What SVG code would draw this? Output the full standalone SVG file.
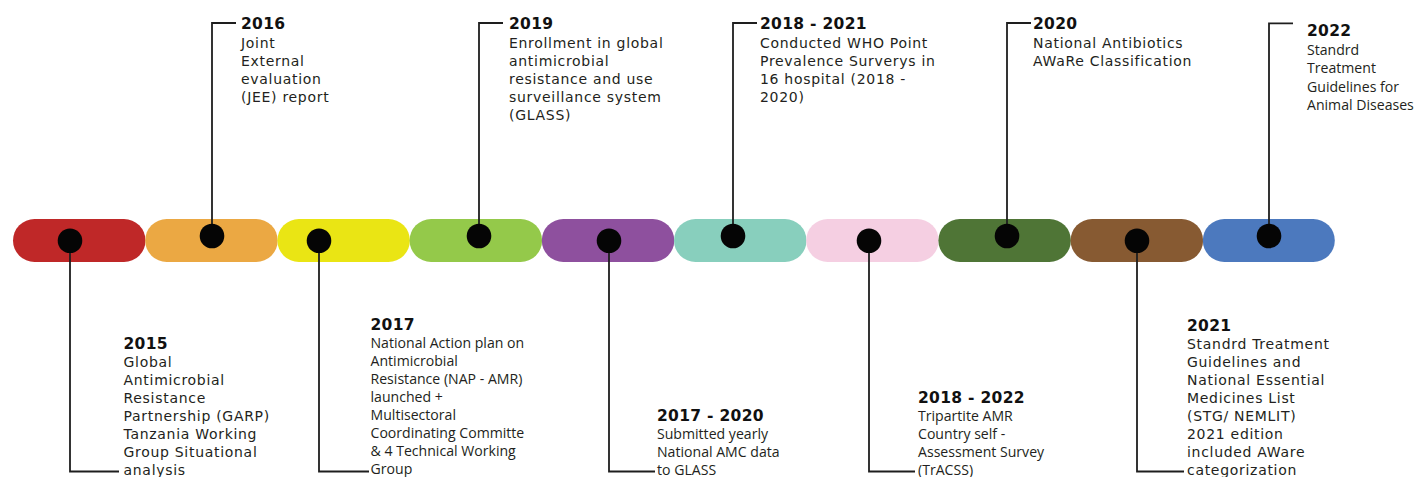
<svg xmlns="http://www.w3.org/2000/svg" width="1414" height="477" viewBox="0 0 1414 477">
<style>
.seg{stroke:none}
.dot{fill:#050505}
.c{fill:none;stroke:#1e1e1e;stroke-width:1.8}
.t{font-family:"DejaVu Sans",sans-serif;font-weight:bold;font-size:15.5px;letter-spacing:0.3px;fill:#111}
.g{font-family:"DejaVu Sans",sans-serif;font-size:14px;letter-spacing:0.7px;fill:#231f20}
.m{font-family:"Open Sans",sans-serif;font-size:14.1px;fill:#231f20}
</style>
<rect width="1414" height="477" fill="#ffffff"/>
<g id="bar">
<rect class="seg" x="13" y="219" width="132.5" height="43" rx="21.5" fill="#BF2828"/>
<rect class="seg" x="145.2" y="219" width="132.5" height="43" rx="21.5" fill="#EBA843"/>
<rect class="seg" x="277.4" y="219" width="132.5" height="43" rx="21.5" fill="#EAE514"/>
<rect class="seg" x="409.6" y="219" width="132.5" height="43" rx="21.5" fill="#94C94A"/>
<rect class="seg" x="541.8" y="219" width="132.5" height="43" rx="21.5" fill="#8E509E"/>
<rect class="seg" x="674" y="219" width="132.5" height="43" rx="21.5" fill="#88CFBD"/>
<rect class="seg" x="806.2" y="219" width="132.5" height="43" rx="21.5" fill="#F5CFE2"/>
<rect class="seg" x="938.4" y="219" width="132.5" height="43" rx="21.5" fill="#4F7536"/>
<rect class="seg" x="1070.6" y="219" width="132.5" height="43" rx="21.5" fill="#875A32"/>
<rect class="seg" x="1202.8" y="219" width="132" height="43" rx="21.5" fill="#4C79BE"/>
</g>
<g id="connectors">
<path class="c" d="M70,241 V471.5 H119"/>
<path class="c" d="M212,236 V23 H236"/>
<path class="c" d="M319,241 V471.5 H369"/>
<path class="c" d="M479,236 V23 H503"/>
<path class="c" d="M609,241 V471.5 H655"/>
<path class="c" d="M733,236 V23 H757"/>
<path class="c" d="M869,241 V471.5 H915"/>
<path class="c" d="M1007,236 V23 H1031"/>
<path class="c" d="M1137,241 V471.5 H1184"/>
<path class="c" d="M1269,236 V23.3 H1293"/>
</g>
<g id="e2015">
<circle class="dot" cx="70" cy="240.7" r="12.3"/>
<text class="t" x="123.5" y="349">2015</text>
<text class="g"><tspan x="123.5" y="367.3">Global</tspan><tspan x="123.5" y="385.3">Antimicrobial</tspan><tspan x="123.5" y="403.3">Resistance</tspan><tspan x="123.5" y="421.3">Partnership (GARP)</tspan><tspan x="123.5" y="439.3">Tanzania Working</tspan><tspan x="123.5" y="457.3">Group Situational</tspan><tspan x="123.5" y="475.3">analysis</tspan></text>
</g>
<g id="e2016">
<circle class="dot" cx="212" cy="236" r="12.3"/>
<text class="t" x="241" y="29">2016</text>
<text class="g"><tspan x="241" y="47.5">Joint</tspan><tspan x="241" y="65.7">External</tspan><tspan x="241" y="83.9">evaluation</tspan><tspan x="241" y="102.1">(JEE) report</tspan></text>
</g>
<g id="e2017">
<circle class="dot" cx="319" cy="240.7" r="12.3"/>
<text class="t" x="370.5" y="330">2017</text>
<text class="m"><tspan x="370.5" y="348">National Action plan on</tspan><tspan x="370.5" y="366">Antimicrobial</tspan><tspan x="370.5" y="384">Resistance (NAP - AMR)</tspan><tspan x="370.5" y="402">launched +</tspan><tspan x="370.5" y="420">Multisectoral</tspan><tspan x="370.5" y="438">Coordinating Committe</tspan><tspan x="370.5" y="456">&amp; 4 Technical Working</tspan><tspan x="370.5" y="474">Group</tspan></text>
</g>
<g id="e2019">
<circle class="dot" cx="479" cy="236" r="12.3"/>
<text class="t" x="509" y="29">2019</text>
<text class="g"><tspan x="509" y="47.5">Enrollment in global</tspan><tspan x="509" y="65.7">antimicrobial</tspan><tspan x="509" y="83.9">resistance and use</tspan><tspan x="509" y="102.1">surveillance system</tspan><tspan x="509" y="120.3">(GLASS)</tspan></text>
</g>
<g id="e2017-2020">
<circle class="dot" cx="609" cy="240.7" r="12.3"/>
<text class="t" x="657" y="421">2017 - 2020</text>
<text class="m"><tspan x="657" y="439">Submitted yearly</tspan><tspan x="657" y="457">National AMC data</tspan><tspan x="657" y="475">to GLASS</tspan></text>
</g>
<g id="e2018-2021">
<circle class="dot" cx="733" cy="236" r="12.3"/>
<text class="t" x="760" y="29">2018 - 2021</text>
<text class="g"><tspan x="760" y="47.5">Conducted WHO Point</tspan><tspan x="760" y="65.7">Prevalence Surverys in</tspan><tspan x="760" y="83.9">16 hospital (2018 -</tspan><tspan x="760" y="102.1">2020)</tspan></text>
</g>
<g id="e2018-2022">
<circle class="dot" cx="869" cy="240.7" r="12.3"/>
<text class="t" x="918" y="403">2018 - 2022</text>
<text class="m"><tspan x="918" y="421">Tripartite AMR</tspan><tspan x="918" y="439">Country self -</tspan><tspan x="918" y="457">Assessment Survey</tspan><tspan x="918" y="475">(TrACSS)</tspan></text>
</g>
<g id="e2020">
<circle class="dot" cx="1007" cy="236" r="12.3"/>
<text class="t" x="1033" y="29">2020</text>
<text class="g"><tspan x="1033" y="47.5">National Antibiotics</tspan><tspan x="1033" y="65.7">AWaRe Classification</tspan></text>
</g>
<g id="e2021">
<circle class="dot" cx="1137" cy="240.7" r="12.3"/>
<text class="t" x="1187" y="331">2021</text>
<text class="g"><tspan x="1187" y="349">Standrd Treatment</tspan><tspan x="1187" y="367">Guidelines and</tspan><tspan x="1187" y="385">National Essential</tspan><tspan x="1187" y="403">Medicines List</tspan><tspan x="1187" y="421">(STG/ NEMLIT)</tspan><tspan x="1187" y="439">2021 edition</tspan><tspan x="1187" y="457">included AWare</tspan><tspan x="1187" y="475">categorization</tspan></text>
</g>
<g id="e2022">
<circle class="dot" cx="1269" cy="236" r="12.3"/>
<text class="t" x="1307" y="36">2022</text>
<text class="m"><tspan x="1307" y="55">Standrd</tspan><tspan x="1307" y="73.3">Treatment</tspan><tspan x="1307" y="91.6">Guidelines for</tspan><tspan x="1307" y="110">Animal Diseases</tspan></text>
</g>
</svg>
